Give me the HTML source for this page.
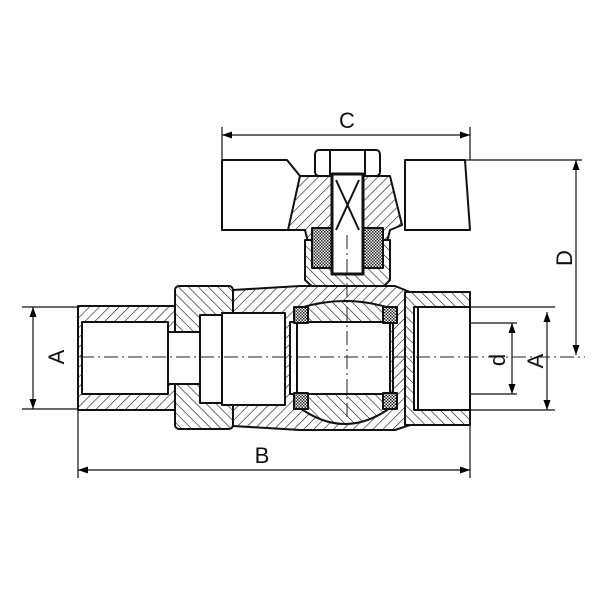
<!DOCTYPE html>
<html><head><style>html,body{margin:0;padding:0;background:#fff}svg{display:block}</style></head><body>
<svg width="600" height="600" viewBox="0 0 600 600" xmlns="http://www.w3.org/2000/svg" font-family="Liberation Sans, sans-serif">
<defs>
<pattern id="h" width="7" height="7" patternUnits="userSpaceOnUse" patternTransform="rotate(45)"><rect width="7" height="7" fill="#fff"/><line x1="0" y1="0" x2="0" y2="7" stroke="#111" stroke-width="1.2"/></pattern>
<pattern id="h2" width="7" height="7" patternUnits="userSpaceOnUse" patternTransform="rotate(-45)"><rect width="7" height="7" fill="#fff"/><line x1="0" y1="0" x2="0" y2="7" stroke="#111" stroke-width="1.2"/></pattern>
<pattern id="x" width="3" height="3" patternUnits="userSpaceOnUse"><rect width="3" height="3" fill="#fff"/><rect width="1.5" height="1.5" fill="#222"/><rect x="1.5" y="1.5" width="1.5" height="1.5" fill="#222"/></pattern>
<marker id="a" viewBox="0 0 10 10" refX="10" refY="5" markerWidth="10" markerHeight="10" markerUnits="userSpaceOnUse" orient="auto-start-reverse"><path d="M0,1.5 L10,5 L0,8.5z" fill="#000"/></marker>
</defs>
<g stroke="#111" stroke-width="2" fill="none" stroke-linejoin="round">
<!-- handle -->
<path d="M222,160 L287,160 L300,176 L290,230 L222,230 Z" fill="#fff"/>
<path d="M405,160 L465,160 L470,230 L405,230 Z" fill="#fff"/>
<!-- bonnet cap -->
<path d="M300,176 L390,176 L402,225 L390,230 L385,250 L310,250 L305,230 L288,230 Z" fill="url(#h)"/>
<rect x="315" y="150" width="65" height="26" rx="4" fill="#fff"/>
<line x1="330" y1="150" x2="330" y2="176"/><line x1="365" y1="150" x2="365" y2="176"/>
<!-- neck -->
<path d="M305,240 L390,240 L390,280 L378,292 L318,292 L305,280 Z" fill="url(#h2)"/>
<rect x="312" y="228" width="20" height="40" fill="url(#x)"/>
<rect x="363" y="228" width="20" height="40" fill="url(#x)"/>
<rect x="332" y="174" width="31" height="100" fill="#fff" stroke-width="3"/>
<path d="M336,180 L359,230 M359,180 L336,230"/>
<path d="M322,288 L372,288 L362,296 L356,296 L356,310 L340,310 L340,296 L334,296 Z" fill="#fff"/>
<!-- left male end -->
<rect x="78" y="306" width="110" height="104" fill="url(#h)"/>
<!-- nut -->
<rect x="175" y="286" width="58" height="143" rx="4" fill="url(#h2)"/>
<!-- body -->
<path d="M233,290 L300,286 L395,286 L410,292 L410,425 L395,430 L300,430 L233,426 Z" fill="url(#h)"/>
<!-- right female end -->
<rect x="405" y="292" width="65" height="133" fill="url(#h2)"/>
<!-- bores -->
<rect x="82" y="322" width="86" height="72" fill="#fff"/>
<rect x="168" y="332" width="38" height="52" fill="#fff"/>
<rect x="200" y="315" width="22" height="88" fill="#fff"/>
<rect x="222" y="313" width="63" height="92" fill="#fff"/>
<rect x="290" y="322" width="100" height="72" fill="#fff"/>
<path d="M300,308 Q345,294 390,308 L390,322 L300,322 Z" fill="url(#h2)"/>
<path d="M300,408 Q345,440 390,408 L390,394 L300,394 Z" fill="url(#h2)"/>
<rect x="294" y="307" width="14" height="16" fill="url(#x)"/>
<rect x="383" y="307" width="14" height="16" fill="url(#x)"/>
<rect x="294" y="393" width="14" height="16" fill="url(#x)"/>
<rect x="383" y="393" width="14" height="16" fill="url(#x)"/>
<line x1="297" y1="322" x2="297" y2="394"/><line x1="393" y1="322" x2="393" y2="394"/>
<rect x="414" y="307" width="56" height="103" fill="#fff"/>
<line x1="418" y1="307" x2="418" y2="410"/>
</g>
<!-- centre lines -->
<g stroke="#222" stroke-width="1" stroke-dasharray="14,4,2,4">
<line x1="80" y1="357" x2="585" y2="357"/>
<line x1="347" y1="235" x2="347" y2="420"/>
</g>
<!-- dimensions -->
<g stroke="#111" stroke-width="1.2" fill="none">
<line x1="222" y1="127" x2="222" y2="160"/><line x1="470" y1="127" x2="470" y2="160"/>
<line x1="222" y1="135" x2="470" y2="135" marker-start="url(#a)" marker-end="url(#a)"/>
<line x1="78" y1="410" x2="78" y2="478"/><line x1="470" y1="425" x2="470" y2="478"/>
<line x1="78" y1="470" x2="470" y2="470" marker-start="url(#a)" marker-end="url(#a)"/>
<line x1="465" y1="160" x2="582" y2="160"/>
<line x1="576" y1="160" x2="576" y2="355" marker-start="url(#a)" marker-end="url(#a)"/>
<line x1="22" y1="307" x2="78" y2="307"/><line x1="22" y1="409" x2="78" y2="409"/>
<line x1="33" y1="307" x2="33" y2="409" marker-start="url(#a)" marker-end="url(#a)"/>
<line x1="470" y1="307" x2="555" y2="307"/><line x1="470" y1="410" x2="555" y2="410"/>
<line x1="547" y1="312" x2="547" y2="410" marker-start="url(#a)" marker-end="url(#a)"/>
<line x1="470" y1="323" x2="517" y2="323"/><line x1="470" y1="394" x2="517" y2="394"/>
<line x1="512" y1="323" x2="512" y2="394" marker-start="url(#a)" marker-end="url(#a)"/>
</g>
<g font-size="22" fill="#111">
<text x="347" y="128" text-anchor="middle">C</text>
<text x="262" y="463" text-anchor="middle">B</text>
<text transform="translate(572,258) rotate(-90)" text-anchor="middle">D</text>
<text transform="translate(64,357) rotate(-90)" text-anchor="middle">A</text>
<text transform="translate(543,361) rotate(-90)" text-anchor="middle">A</text>
<text transform="translate(505,360) rotate(-90)" text-anchor="middle">d</text>
</g>
</svg>
</body></html>
